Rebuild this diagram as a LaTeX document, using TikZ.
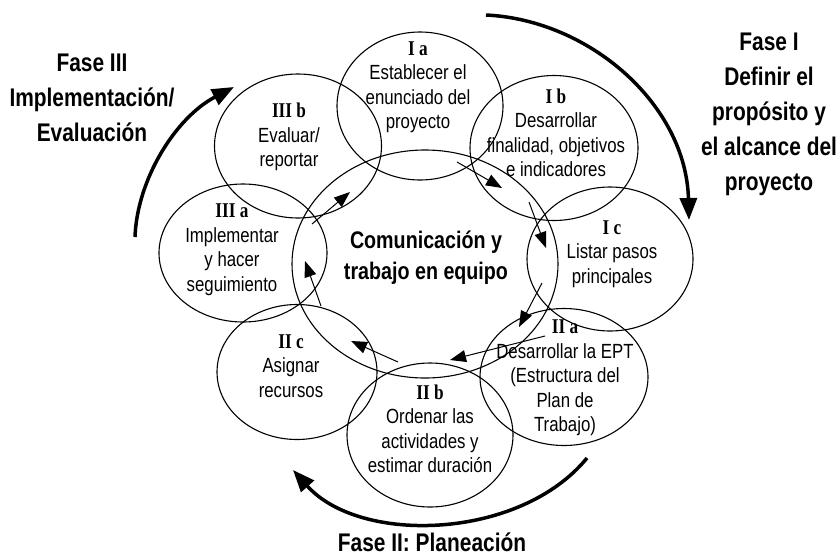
\documentclass[tikz,border=0pt]{standalone}
\usepackage{fontspec}
\setmainfont{Liberation Sans}[FakeStretch=0.82]
\newfontfamily\lblfont{Liberation Serif}[FakeStretch=0.82]
\usetikzlibrary{arrows.meta,shapes.geometric}
\newcommand{\romlab}[1]{{\lblfont\bfseries\fontsize{21}{24.5}\selectfont #1}}
\begin{document}
\begin{tikzpicture}[x=1pt,y=-1pt,
 circ/.style={draw, ellipse, line width=1.1pt, inner sep=0pt},
 txt/.style={align=center, font=\fontsize{20.5}{24.5}\selectfont, inner sep=0pt},
 centertxt/.style={align=center, font=\fontsize{24}{31}\selectfont\bfseries, inner sep=0pt},
 phase/.style={align=center, font=\fontsize{25.5}{35}\selectfont\bfseries, inner sep=0pt},
 big/.style={line width=3.5pt, -{Triangle[length=22pt,width=17pt]}},
 small/.style={line width=1pt, -{Triangle[length=16pt,width=12pt]}}]
\useasboundingbox (0,0) rectangle (840,557);

% ellipses
\node[circ, minimum width=266pt, minimum height=228pt] (C) at (425,264) {};
\node[circ, minimum width=166pt, minimum height=148pt] (Ia) at (420,106) {};
\node[circ, minimum width=168pt, minimum height=145pt] (Ib) at (554,148) {};
\node[circ, minimum width=166pt, minimum height=144pt] (Ic) at (610,259) {};
\node[circ, minimum width=168pt, minimum height=137pt] (IIa) at (564,377) {};
\node[circ, minimum width=166pt, minimum height=144pt] (IIb) at (430,435) {};
\node[circ, minimum width=160pt, minimum height=135pt] (IIc) at (297,372) {};
\node[circ, minimum width=168pt, minimum height=138pt] (IIIa) at (243,253) {};
\node[circ, minimum width=167pt, minimum height=144pt] (IIIb) at (298,146) {};

% texts
\node[centertxt] (tC) at (426,257.5) {Comunicación y\\trabajo en equipo};
\node[txt] (tIa) at (418,87) {\romlab{I a}\\Establecer el\\enunciado del\\proyecto};
\node[txt] (tIb) at (556,133) {\romlab{I b}\\Desarrollar\\finalidad, objetivos\\e indicadores};
\node[txt] (tIc) at (612,254) {\romlab{I c}\\Listar pasos\\principales};
\node[txt] (tIIa) at (565,378) {\romlab{II a}\\Desarrollar la EPT\\(Estructura del\\Plan de\\Trabajo)};
\node[txt] (tIIb) at (430,429) {\romlab{II b}\\Ordenar las\\actividades y\\estimar duración};
\node[txt] (tIIc) at (291,366) {\romlab{II c}\\Asignar\\recursos};
\node[txt] (tIIIa) at (232,249.5) {\romlab{III a}\\Implementar\\y hacer\\seguimiento};
\node[txt] (tIIIb) at (289,137) {\romlab{III b}\\Evaluar/\\reportar};

\node[phase] (F3) at (92,97.5) {Fase III\\Implementación/\\Evaluación};
\node[phase] (F1) at (769,114) {Fase I\\Definir el\\propósito y\\el alcance del\\proyecto};
\node[phase] (F2) at (432,542) {Fase II: Planeación};

% big phase arrows
\coordinate (b1s) at (486,15);
\coordinate (b1e) at (689,220);
\coordinate (b2s) at (587,458);
\coordinate (b2e) at (293,470);
\coordinate (b3s) at (135,237);
\coordinate (b3e) at (234,87);
\draw[big] (b1s) .. controls (590,20) and (686,105) .. (b1e);
\draw[big] (b2s) .. controls (520,540) and (360,545) .. (b2e);
\draw[big] (b3s) .. controls (137,180) and (175,118) .. (b3e);

% small cycle arrows
\coordinate (s1a) at (457,162);
\coordinate (s1b) at (502,188);
\coordinate (s2a) at (529,202);
\coordinate (s2b) at (546,248);
\coordinate (s3a) at (542,283);
\coordinate (s3b) at (519,327);
\coordinate (s4a) at (545,336);
\coordinate (s4b) at (450,360);
\coordinate (s5a) at (398,362);
\coordinate (s5b) at (351,341);
\coordinate (s6a) at (321,306);
\coordinate (s6b) at (305,261);
\coordinate (s7a) at (312,224);
\coordinate (s7b) at (350,192);
\draw[small] (s1a) -- (s1b);
\draw[small] (s2a) -- (s2b);
\draw[small] (s3a) -- (s3b);
\draw[small] (s4a) -- (s4b);
\draw[small] (s5a) -- (s5b);
\draw[small] (s6a) -- (s6b);
\draw[small] (s7a) -- (s7b);
\end{tikzpicture}
\end{document}
